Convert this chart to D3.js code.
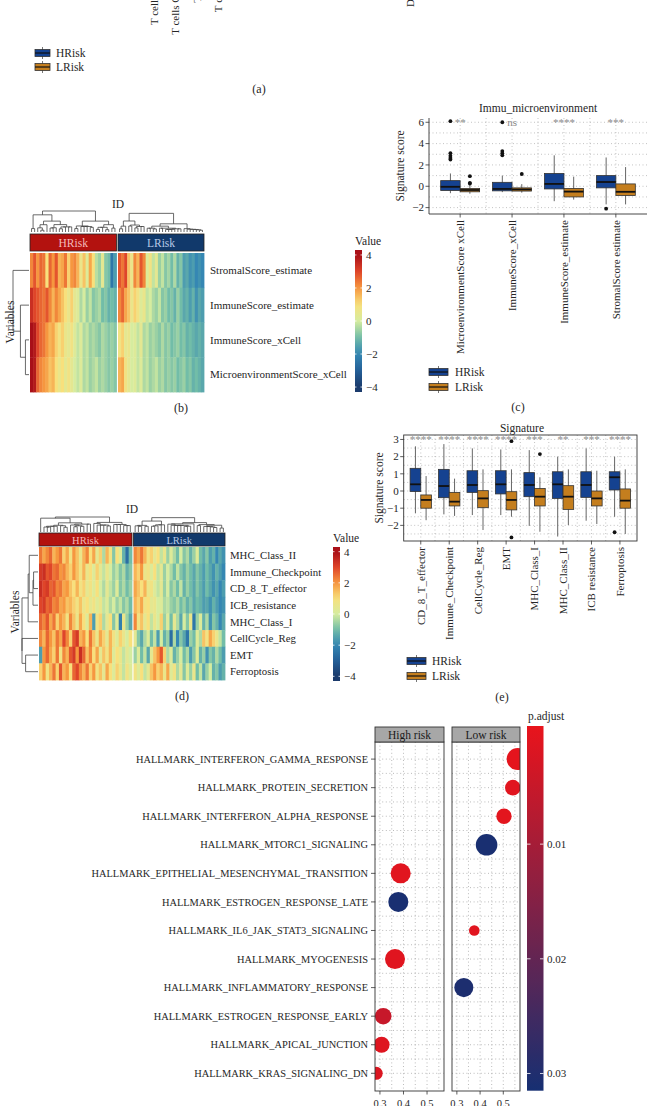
<!DOCTYPE html>
<html><head><meta charset="utf-8">
<script src="https://cdn.jsdelivr.net/npm/d3@7"></script>
<style>
body{margin:0;background:#fff}
svg{display:block}
text{font-family:"Liberation Serif","Times New Roman",serif;fill:#262626}
</style>
</head><body>
<svg id="fig" width="648" height="1106"></svg>
<script>
// ---------------- DATA ----------------
const groups = ["HRisk", "LRisk"];
const cibersortCells = ["B cells naive","B cells memory","Plasma cells","T cells CD8","T cells CD4 naive","T cells CD4 memory resting","T cells CD4 memory activated","T cells follicular helper","T cells regulatory (Tregs)","T cells gamma delta","NK cells resting","NK cells activated","Monocytes","Macrophages M0","Macrophages M1","Macrophages M2","Dendritic cells resting","Dendritic cells activated","Mast cells resting","Mast cells activated","Eosinophils","Neutrophils"];

// panel b heatmap
const immuRows = ["StromalScore_estimate","ImmuneScore_estimate","ImmuneScore_xCell","MicroenvironmentScore_xCell"];
const immuHeatH = [
 [2.2,2.8,2.0,2.6,2.4,1.0,2.6,2.0,2.8,1.6,1.8,2.4,1.2,2.0,2.2,1.6,0.6,1.4,0.2,1.8,1.0,-0.3,-0.6,0.4,-0.8,-1.0,-2.4,-1.6],
 [3.4,3.0,2.8,2.6,2.4,2.8,2.2,1.6,2.2,1.8,1.4,1.0,0.6,1.2,0.4,0.2,-0.4,0.0,-0.6,-0.2,-0.8,-0.6,-0.4,-1.0,-0.8,-1.2,-1.0,-1.2],
 [4.0,3.8,3.0,2.6,2.4,2.0,1.6,1.8,1.2,0.8,1.2,0.6,0.4,0.8,0.2,-0.2,0.2,-0.4,-0.2,-0.6,-0.4,-0.6,-0.8,-0.4,-0.6,-0.8,-0.6,-0.8],
 [4.0,3.8,2.6,2.2,2.0,1.8,1.4,1.6,1.0,0.6,1.0,0.4,0.8,0.4,0.0,-0.2,0.2,-0.4,-0.2,-0.6,-0.4,-0.2,-0.6,-0.4,-0.6,-0.8,-0.6,-0.8]
];
const immuHeatL = [
 [2.8,2.4,3.0,1.4,0.6,2.2,1.6,2.8,2.2,0.2,0.8,-0.2,0.4,-0.6,-0.2,-0.8,-0.5,-1.0,-0.4,-1.2,-0.8,-1.6,-1.4,-1.8,-1.6,-2.0,-1.8,-2.0],
 [2.2,2.6,1.8,1.4,0.6,1.2,0.8,0.2,0.6,-0.2,0.0,-0.4,-0.6,-0.2,-0.8,-0.6,-1.0,-0.8,-1.2,-0.6,-1.0,-1.4,-1.2,-1.6,-1.2,-1.8,-1.4,-1.6],
 [0.8,1.2,0.4,0.6,0.0,0.2,-0.2,0.4,-0.4,-0.2,-0.6,-0.4,-0.6,-0.8,-0.4,-0.8,-0.6,-1.0,-0.8,-0.6,-1.0,-0.8,-1.2,-1.0,-1.2,-1.4,-1.2,-1.4],
 [1.6,1.8,0.8,0.4,0.0,0.2,-0.2,0.2,-0.4,-0.2,-0.6,-0.4,-0.2,-0.6,-0.4,-0.8,-0.6,-0.8,-0.6,-1.0,-0.8,-0.6,-1.0,-0.8,-1.2,-1.0,-1.2,-1.4]
];

// panel c boxplot  [lowWhisker, q1, median, q3, highWhisker]
const immuCats = ["MicroenvironmentScore xCell","ImmuneScore_xCell","ImmuneScore_estimate","StromalScore estimate"];
const immuBoxH = [[-0.65,-0.4,-0.05,0.53,1.2],[-0.55,-0.43,-0.25,0.37,1.0],[-1.4,-0.25,0.22,1.2,2.9],[-1.7,-0.15,0.4,1.0,2.7]];
const immuBoxL = [[-0.7,-0.52,-0.35,-0.2,0.15],[-0.6,-0.45,-0.3,-0.15,0.2],[-1.25,-1.0,-0.5,-0.2,0.9],[-1.7,-0.87,-0.52,0.22,1.8]];
const immuOutH = [[6.1,3.1,2.85,2.65,2.5],[6.0,3.3,3.1,2.9],[],[-2.1]];
const immuOutL = [[0.95,0.32,0.25],[1.15],[],[]];
const immuSig = ["**","ns","****","***"];
const immuTicks = [-2,0,2,4,6];

// panel d heatmap
const sigRows = ["MHC_Class_II","Immune_Checkpoint","CD_8_T_effector","ICB_resistance","MHC_Class_I","CellCycle_Reg","EMT","Ferroptosis"];
const sigHeatH = [
 [2.4,1.8,2.2,2.6,1.6,2.0,2.4,1.2,1.8,0.8,2.0,1.4,0.6,1.6,2.2,1.0,1.8,0.4,1.2,-0.4,1.6,0.8,-0.8,1.0,0.2,-1.2,-2.6,-1.0],
 [3.2,3.4,2.8,3.0,2.4,2.6,2.0,2.2,1.6,1.2,2.0,1.4,0.8,1.6,0.6,1.0,0.2,1.2,0.4,-0.2,0.6,0.0,-0.6,-0.2,-0.8,-0.4,-1.2,-0.8],
 [3.4,3.0,3.2,2.6,2.8,2.2,2.4,1.8,2.0,1.4,1.0,1.6,0.8,1.2,0.4,0.8,0.2,1.0,0.0,-0.4,0.4,-0.2,-0.6,0.2,-0.8,-0.4,-1.0,-0.6],
 [3.0,3.2,2.6,2.8,2.2,2.4,1.8,2.0,1.4,1.6,1.2,0.8,1.4,0.6,1.0,0.4,0.8,0.2,0.6,-0.2,0.2,-0.4,0.0,-0.6,-0.2,-0.8,-0.4,-1.0],
 [2.6,2.2,2.8,1.8,2.4,1.2,2.0,1.6,0.8,2.2,1.4,0.6,1.8,1.0,0.2,1.6,-1.6,0.8,1.2,-0.4,0.4,1.0,-0.8,0.2,-2.2,0.6,-0.6,-1.4],
 [2.2,1.6,2.6,2.0,1.4,2.4,1.8,3.0,2.2,1.2,2.8,3.2,1.6,2.0,1.0,2.4,1.4,0.6,1.8,1.2,0.4,1.6,0.8,0.2,1.2,0.6,0.0,1.0],
 [-1.6,2.0,2.6,1.8,1.2,2.4,0.8,2.2,1.6,2.8,3.2,2.0,3.4,2.6,1.4,2.2,1.0,1.8,0.4,1.4,0.8,1.6,0.2,1.0,0.6,-0.2,0.4,0.0],
 [1.2,2.0,0.8,1.6,2.4,1.2,2.8,1.6,2.0,1.0,2.6,3.0,2.2,1.6,2.4,1.2,2.0,0.8,1.4,0.4,1.8,1.0,0.2,1.2,0.6,-0.2,0.8,0.2]
];
const sigHeatL = [
 [2.2,1.8,2.4,1.6,0.8,1.2,0.4,1.0,-0.2,0.6,-0.6,0.2,-0.4,-1.0,0.0,-0.8,-0.4,-1.2,-0.6,0.2,-1.0,-1.4,-0.8,-1.6,-1.2,-2.0,-1.4,-1.8],
 [1.6,1.2,2.0,0.6,0.8,0.2,1.0,-0.2,0.4,-0.6,0.0,-0.4,-1.0,-0.2,-0.8,-1.2,-0.6,-1.0,-1.4,-0.8,-1.2,-1.6,-1.0,-1.4,-1.8,-1.2,-1.6,-2.0],
 [1.8,1.4,1.0,1.6,0.6,0.8,0.2,-0.2,0.4,-0.6,0.0,-0.8,-0.4,-1.0,-0.2,-1.2,-0.6,-1.0,-1.4,-0.8,-1.2,-1.6,-1.0,-1.4,-1.8,-1.4,-2.0,-1.6],
 [1.6,1.2,1.8,0.8,1.0,0.4,0.6,0.0,0.2,-0.4,-0.2,-0.6,-0.8,-0.4,-1.0,-0.6,-1.2,-0.8,-1.4,-1.0,-1.2,-1.6,-1.4,-1.8,-1.2,-1.6,-2.0,-1.8],
 [2.2,0.8,1.4,0.4,1.0,-0.2,0.6,0.0,1.2,-0.6,0.2,-1.0,0.4,-0.4,-1.4,0.0,-0.8,0.6,-2.4,-0.6,0.2,-1.2,-0.4,-1.8,-0.8,-1.2,-2.0,-1.4],
 [0.4,-0.8,-1.4,-0.4,0.2,-1.0,-0.2,-1.6,0.0,-1.2,-0.6,-2.6,-0.4,-2.0,-0.8,-1.4,-2.4,-0.6,-1.0,0.2,-0.4,1.4,0.8,1.8,1.2,0.6,-0.2,-1.0],
 [-0.6,0.2,-1.0,-0.2,-1.4,0.4,1.4,2.0,2.8,1.2,-0.4,0.2,-1.2,-0.6,0.0,-1.0,-0.4,-1.6,-0.8,0.2,-1.2,-0.6,-1.8,-0.8,-1.2,-0.4,-1.0,-1.6],
 [0.8,0.2,1.0,-0.2,0.4,1.4,2.0,1.2,1.6,0.6,1.8,0.2,0.8,-0.4,0.4,-0.8,0.2,-0.6,0.6,-1.0,-0.2,-1.4,-0.6,0.0,-1.2,-0.8,-1.6,-1.2]
];

// panel e boxplot
const sigCats = ["CD_8_T_effector","Immune_Checkpoint","CellCycle_Reg","EMT","MHC_Class_I","MHC_Class_II","ICB resistance","Ferroptosis"];
const sigBoxH = [[-1.3,-0.03,0.39,1.32,2.6],[-1.36,-0.39,0.29,1.26,2.73],[-1.4,-0.08,0.35,1.18,2.48],[-1.4,-0.17,0.39,1.18,2.42],[-2.03,-0.33,0.35,1.07,2.38],[-2.65,-0.43,0.39,1.12,2.0],[-1.73,-0.37,0.35,1.12,2.48],[-1.5,0.06,0.8,1.12,2.0]];
const sigBoxL = [[-1.7,-1.0,-0.52,-0.23,0.87],[-1.45,-0.87,-0.62,-0.08,0.72],[-2.27,-0.97,-0.43,0.02,1.26],[-1.5,-1.1,-0.52,-0.04,1.26],[-2.37,-0.87,-0.33,0.15,0.8],[-1.98,-1.07,-0.33,0.31,1.26],[-1.92,-0.87,-0.43,0.0,1.18],[-2.5,-1.0,-0.56,0.12,1.26]];
const sigOutH = [[],[],[],[],[],[],[],[-2.4]];
const sigOutL = [[],[],[],[2.9,-2.7],[2.15],[],[],[]];
const sigSig = ["****","****","****","****","***","**","***","****"];
const sigTicks = [-2,-1,0,1,2,3];

// panel f dotplot
const hallmarkRows = ["HALLMARK_INTERFERON_GAMMA_RESPONSE","HALLMARK_PROTEIN_SECRETION","HALLMARK_INTERFERON_ALPHA_RESPONSE","HALLMARK_MTORC1_SIGNALING","HALLMARK_EPITHELIAL_MESENCHYMAL_TRANSITION","HALLMARK_ESTROGEN_RESPONSE_LATE","HALLMARK_IL6_JAK_STAT3_SIGNALING","HALLMARK_MYOGENESIS","HALLMARK_INFLAMMATORY_RESPONSE","HALLMARK_ESTROGEN_RESPONSE_EARLY","HALLMARK_APICAL_JUNCTION","HALLMARK_KRAS_SIGNALING_DN"];
const facets = ["High risk","Low risk"];
const highTerms = ["HALLMARK_EPITHELIAL_MESENCHYMAL_TRANSITION","HALLMARK_ESTROGEN_RESPONSE_LATE","HALLMARK_MYOGENESIS","HALLMARK_ESTROGEN_RESPONSE_EARLY","HALLMARK_APICAL_JUNCTION","HALLMARK_KRAS_SIGNALING_DN"];
const highGeneRatio = [0.388,0.378,0.364,0.314,0.307,0.284];
const highPAdjust = [0.0010,0.0310,0.0012,0.0050,0.0015,0.0020];
const highCount = [104,104,104,71,66,44];
const lowTerms = ["HALLMARK_INTERFERON_GAMMA_RESPONSE","HALLMARK_PROTEIN_SECRETION","HALLMARK_INTERFERON_ALPHA_RESPONSE","HALLMARK_MTORC1_SIGNALING","HALLMARK_IL6_JAK_STAT3_SIGNALING","HALLMARK_INFLAMMATORY_RESPONSE"];
const lowGeneRatio = [0.562,0.541,0.503,0.428,0.375,0.330];
const lowPAdjust = [0.0005,0.0010,0.0008,0.0310,0.0010,0.0305];
const lowCount = [125,63,61,121,29,94];
const geneRatioTicks = [0.3,0.4,0.5];
const pAdjustTicks = [0.01,0.02,0.03];
const heatTicks = [4,2,0,-2,-4];

// ---------------- STYLE ----------------
const colH = "#154290", colL = "#C47E1E";
const annH = "#B3120F", annL = "#11396B";
const heatColor = d3.scaleLinear()
  .domain([-4,-3,-2,-1,0,1,2,3,4])
  .range(["#1B3A6B","#245F97","#3587B3","#72BDA8","#D6EC9F","#F8E07C","#F6973F","#DF4529","#A80F18"])
  .clamp(true);
const pColor = d3.scaleLinear().domain([0,0.0315]).range(["#E8141C","#162F72"]).interpolate(d3.interpolateRgb).clamp(true);

const svg = d3.select("#fig");
svg.append("rect").attr("width",648).attr("height",1106).attr("fill","#fff");
const defs = svg.append("defs");
const fmt = v => (v<0?"\u2212":"") + Math.abs(v);

function panelLabel(t,x,y){ svg.append("text").attr("x",x).attr("y",y).attr("text-anchor","middle").attr("font-size",12).text(t); }

function legendKey(g,x,y,w,color,label,tx){
  const h=7;
  g.append("line").attr("x1",x+w/2).attr("x2",x+w/2).attr("y1",y-6).attr("y2",y+6).attr("stroke","#555").attr("stroke-width",0.8);
  g.append("rect").attr("x",x).attr("y",y-h/2).attr("width",w).attr("height",h).attr("fill",color).attr("stroke","#333").attr("stroke-width",0.8);
  g.append("line").attr("x1",x).attr("x2",x+w).attr("y1",y).attr("y2",y).attr("stroke","#111").attr("stroke-width",1.2);
  g.append("text").attr("x",tx).attr("y",y+4).attr("font-size",11.5).text(label);
}

// ---------------- PANEL A (remnant) ----------------
const xA = d3.scalePoint().domain(cibersortCells).range([47.5,495]);
svg.append("g").selectAll("text").data(cibersortCells).join("text")
  .attr("transform",d=>`translate(${xA(d)},-100) rotate(-90)`)
  .attr("text-anchor","end").attr("dy","0.35em").attr("font-size",11).text(d=>d);
const legA = svg.append("g");
legendKey(legA,35,53,15,colH,"HRisk",56);
legendKey(legA,35,67,15,colL,"LRisk",56);
panelLabel("(a)",259,93);

// ---------------- CLUSTERING ----------------
function cluster(vectors){
  const dist=(a,b)=>Math.sqrt(d3.sum(a,(v,k)=>(v-b[k])**2));
  let cl = vectors.map((v,i)=>({leaves:[i],h:0}));
  while(cl.length>1){
    let bi=0,bd=Infinity;
    for(let i=0;i<cl.length-1;i++){
      const a=cl[i],b=cl[i+1]; let s=0;
      for(const p of a.leaves) for(const q of b.leaves) s+=dist(vectors[p],vectors[q]);
      const d=s/(a.leaves.length*b.leaves.length);
      if(d<bd){bd=d;bi=i;}
    }
    const a=cl[bi],b=cl[bi+1];
    cl.splice(bi,2,{leaves:a.leaves.concat(b.leaves),h:Math.max(bd,a.h,b.h),children:[a,b]});
  }
  return cl[0];
}
function drawDendro(g,root,posFn,hScale,orient){
  (function lay(n){ if(!n.children){n.p=posFn(n.leaves[0]);return;} n.children.forEach(lay); n.p=(n.children[0].p+n.children[1].p)/2; })(root);
  const path=d3.path();
  const pt=(p,h)=>orient==="top"?[p,hScale(h)]:[hScale(h),p];
  (function walk(n){
    if(!n.children) return;
    const [a,b]=n.children;
    for(const c of [a,b]){ const s=pt(c.p,c.h), e=pt(c.p,n.h); path.moveTo(...s); path.lineTo(...e); }
    const s=pt(a.p,n.h), e=pt(b.p,n.h); path.moveTo(...s); path.lineTo(...e);
    walk(a); walk(b);
  })(root);
  g.append("path").attr("d",path.toString()).attr("fill","none").attr("stroke","#444").attr("stroke-width",0.8);
}

// ---------------- HEATMAP ----------------
function heatmap(c){
  const g=svg.append("g");
  const nH=c.dataH[0].length, nL=c.dataL[0].length;
  const xH=d3.scaleBand().domain(d3.range(nH)).range(c.xH);
  const xL=d3.scaleBand().domain(d3.range(nL)).range(c.xL);
  const y=d3.scaleBand().domain(c.rows).range(c.yR);
  c.rows.forEach((r,ri)=>{
    g.append("g").selectAll("rect").data(c.dataH[ri]).join("rect")
      .attr("x",(d,i)=>xH(i)).attr("y",y(r)).attr("width",xH.bandwidth()+0.4).attr("height",y.bandwidth()+0.4).attr("fill",d=>heatColor(d));
    g.append("g").selectAll("rect").data(c.dataL[ri]).join("rect")
      .attr("x",(d,i)=>xL(i)).attr("y",y(r)).attr("width",xL.bandwidth()+0.4).attr("height",y.bandwidth()+0.4).attr("fill",d=>heatColor(d));
  });
  // annotation
  [[c.xH,annH,"HRisk","#F3BABA"],[c.xL,annL,"LRisk","#B7C9E6"]].forEach(([xr,col,lab,tc])=>{
    g.append("rect").attr("x",xr[0]).attr("y",c.ann[0]).attr("width",xr[1]-xr[0]).attr("height",c.ann[1]-c.ann[0]).attr("fill",col).attr("stroke","#222").attr("stroke-width",0.8);
    g.append("text").attr("x",(xr[0]+xr[1])/2).attr("y",(c.ann[0]+c.ann[1])/2+4).attr("text-anchor","middle").attr("font-size",c.annFont).style("fill",tc).text(lab);
  });
  g.append("text").attr("x",c.idPos[0]).attr("y",c.idPos[1]).attr("text-anchor","middle").attr("font-size",11.5).text("ID");
  // column dendrograms
  const colVec=(data,i)=>data.map(r=>r[i]);
  const tH=cluster(d3.range(nH).map(i=>colVec(c.dataH,i)));
  const tL=cluster(d3.range(nL).map(i=>colVec(c.dataL,i)));
  const hs=d3.scaleLinear().domain([0,Math.max(tH.h,tL.h)]).range([c.dend[1],c.dend[0]]);
  drawDendro(g,tH,i=>xH(i)+xH.bandwidth()/2,hs,"top");
  drawDendro(g,tL,i=>xL(i)+xL.bandwidth()/2,hs,"top");
  // row dendrogram
  const rowVec=c.rows.map((r,ri)=>c.dataH[ri].concat(c.dataL[ri]));
  const tR=cluster(rowVec);
  const hr=d3.scaleLinear().domain([0,tR.h]).range([c.xH[0]-1,c.rdRoot]);
  drawDendro(g,tR,i=>y(c.rows[i])+y.bandwidth()/2,hr,"left");
  // row labels
  g.append("g").selectAll("text").data(c.rows).join("text")
    .attr("x",c.labelX).attr("y",d=>y(d)+y.bandwidth()/2).attr("dy","0.35em").attr("font-size",c.rowFont).text(d=>d);
  g.append("text").attr("transform",`translate(${c.varPos[0]},${c.varPos[1]}) rotate(-90)`).attr("text-anchor","middle").attr("dy","0.35em").attr("font-size",11.5).text("Variables");
  // legend
  const ly=d3.scaleLinear().domain([4.3,-4.3]).range(c.legY);
  const gid="grad"+c.id;
  const grad=defs.append("linearGradient").attr("id",gid).attr("x1",0).attr("x2",0).attr("y1",0).attr("y2",1);
  d3.range(0,1.0001,0.05).forEach(t=>grad.append("stop").attr("offset",t).attr("stop-color",heatColor(4.3-8.6*t)));
  g.append("rect").attr("x",c.legX).attr("y",c.legY[0]).attr("width",7).attr("height",c.legY[1]-c.legY[0]).attr("fill",`url(#${gid})`);
  heatTicks.forEach(v=>{
    g.append("line").attr("x1",c.legX).attr("x2",c.legX+1.5).attr("y1",ly(v)).attr("y2",ly(v)).attr("stroke","#fff").attr("stroke-width",0.8);
    g.append("line").attr("x1",c.legX+5.5).attr("x2",c.legX+7).attr("y1",ly(v)).attr("y2",ly(v)).attr("stroke","#fff").attr("stroke-width",0.8);
  });
  g.append("g").selectAll("text").data(heatTicks).join("text").attr("x",c.legX+11).attr("y",d=>ly(d)).attr("dy","0.35em").attr("font-size",11).text(fmt);
  g.append("text").attr("x",c.legX).attr("y",c.legY[0]-5).attr("font-size",11.5).text("Value");
}

heatmap({id:"b",rows:immuRows,dataH:immuHeatH,dataL:immuHeatL,xH:[30,116.5],xL:[118,204],yR:[253,392],ann:[234,251],annFont:11.5,
  idPos:[118,208],dend:[211,232],rdRoot:13,labelX:210,rowFont:11,varPos:[10,322],legX:355,legY:[250,392]});
panelLabel("(b)",181,412);

heatmap({id:"d",rows:sigRows,dataH:sigHeatH,dataL:sigHeatL,xH:[39,132],xL:[133.5,225],yR:[547,680],ann:[533,546],annFont:10.5,
  idPos:[132,513],dend:[517,532],rdRoot:22,labelX:230,rowFont:10.8,varPos:[15,612],legX:333,legY:[547,681]});
panelLabel("(d)",182,700);

// ---------------- BOXPLOTS ----------------
function boxplot(c){
  const g=svg.append("g");
  const x=d3.scalePoint().domain(c.cats).range(c.xR).padding(0.6);
  const step=x.step(), bw=step*0.375;
  const y=d3.scaleLinear().domain(c.yD).range(c.yR);
  const [L,R]=c.xR, [B,T]=c.yR;
  const dot="1 2.5";
  // grid
  const minor=d3.range(Math.ceil(c.yD[0]/c.minorStep)*c.minorStep,c.yD[1],c.minorStep);
  g.append("g").selectAll("line").data(minor).join("line").attr("x1",L).attr("x2",R).attr("y1",d=>y(d)).attr("y2",d=>y(d))
    .attr("stroke","#9a9a9a").attr("stroke-width",0.6).attr("stroke-dasharray",dot);
  const vx=[]; c.cats.forEach((d,i)=>{vx.push(x(d)); if(i<c.cats.length-1) vx.push(x(d)+step/2);});
  g.append("g").selectAll("line").data(vx).join("line").attr("x1",d=>d).attr("x2",d=>d).attr("y1",T).attr("y2",B)
    .attr("stroke","#9a9a9a").attr("stroke-width",0.6).attr("stroke-dasharray",dot);
  // boxes
  [[c.boxH,c.outH,colH,-1],[c.boxL,c.outL,colL,1]].forEach(([box,out,col,s])=>{
    c.cats.forEach((cat,i)=>{
      const cx=x(cat)+s*bw/2, b=box[i];
      g.append("line").attr("x1",cx).attr("x2",cx).attr("y1",y(b[0])).attr("y2",y(b[4])).attr("stroke","#555").attr("stroke-width",0.9);
      g.append("rect").attr("x",cx-bw/2).attr("y",y(b[3])).attr("width",bw).attr("height",y(b[1])-y(b[3])).attr("fill",col).attr("stroke","#333").attr("stroke-width",0.8);
      g.append("line").attr("x1",cx-bw/2).attr("x2",cx+bw/2).attr("y1",y(b[2])).attr("y2",y(b[2])).attr("stroke","#111").attr("stroke-width",1.8);
      g.append("g").selectAll("circle").data(out[i]).join("circle").attr("cx",cx).attr("cy",d=>y(d)).attr("r",1.9).attr("fill","#111");
    });
  });
  // significance
  g.append("g").selectAll("text").data(c.sig).join("text").attr("x",(d,i)=>x(c.cats[i])).attr("y",y(c.sigY)+4)
    .attr("text-anchor","middle").attr("font-size",11).style("fill","#8a8a8a").text(d=>d);
  // axes
  if(c.border){ g.append("rect").attr("x",L).attr("y",T).attr("width",R-L).attr("height",B-T).attr("fill","none").attr("stroke","#333").attr("stroke-width",0.9); }
  else {
    g.append("line").attr("x1",L).attr("x2",L).attr("y1",T).attr("y2",B).attr("stroke","#333").attr("stroke-width",0.9);
    g.append("line").attr("x1",L).attr("x2",R).attr("y1",B).attr("y2",B).attr("stroke","#333").attr("stroke-width",0.9);
  }
  c.ticks.forEach(v=>{
    g.append("line").attr("x1",L-3.5).attr("x2",L).attr("y1",y(v)).attr("y2",y(v)).attr("stroke","#333").attr("stroke-width",0.8);
    g.append("text").attr("x",L-5).attr("y",y(v)).attr("dy","0.35em").attr("text-anchor","end").attr("font-size",11).text(fmt(v));
  });
  c.cats.forEach(cat=>{
    g.append("line").attr("x1",x(cat)).attr("x2",x(cat)).attr("y1",B).attr("y2",B+3.5).attr("stroke","#333").attr("stroke-width",0.8);
    g.append("text").attr("transform",`translate(${x(cat)},${B+6}) rotate(-90)`).attr("text-anchor","end").attr("dy","0.35em").attr("font-size",11).text(cat);
  });
  g.append("text").attr("x",c.titlePos[0]).attr("y",c.titlePos[1]).attr("text-anchor","middle").attr("font-size",11.5).text(c.title);
  g.append("text").attr("transform",`translate(${c.ylabX},${(T+B)/2}) rotate(-90)`).attr("text-anchor","middle").attr("dy","0.35em").attr("font-size",11.5).text("Signature score");
  legendKey(g,c.leg[0],c.leg[1],19,colH,groups[0],c.leg[2]);
  legendKey(g,c.leg[0],c.leg[1]+15,19,colL,groups[1],c.leg[2]);
}

boxplot({cats:immuCats,boxH:immuBoxH,boxL:immuBoxL,outH:immuOutH,outL:immuOutL,sig:immuSig,sigY:6,ticks:immuTicks,minorStep:1,
  xR:[429,647],yD:[-2.6,6.4],yR:[214,118],border:false,title:"Immu_microenvironment",titlePos:[538,112],ylabX:400,leg:[429,372,455]});
panelLabel("(c)",518,411);

boxplot({cats:sigCats,boxH:sigBoxH,boxL:sigBoxL,outH:sigOutH,outL:sigOutL,sig:sigSig,sigY:3,ticks:sigTicks,minorStep:0.5,
  xR:[403.7,637],yD:[-2.91,3.26],yR:[541,435],border:true,title:"Signature",titlePos:[522,432],ylabX:379,leg:[407,661,432]});
panelLabel("(e)",502,701);

// ---------------- PANEL F ----------------
(function(){
  const g=svg.append("g");
  const yF=d3.scalePoint().domain(hallmarkRows).range([759.1,1073.3]);
  const rowStep=yF.step();
  const panelY=[742,1091];
  const panelsX={"High risk":[375,444],"Low risk":[452,520]};
  const size=d3.scaleSqrt().domain([0,130]).range([0,11.2]);
  const facetData={
    "High risk":highTerms.map((t,i)=>({t,gr:highGeneRatio[i],p:highPAdjust[i],n:highCount[i]})),
    "Low risk":lowTerms.map((t,i)=>({t,gr:lowGeneRatio[i],p:lowPAdjust[i],n:lowCount[i]}))
  };
  const dot="1 2.6";
  facets.forEach((f,fi)=>{
    const [x0,x1]=panelsX[f];
    const x=d3.scaleLinear().domain([0.279,0.572]).range([x0,x1]);
    const cid="clipf"+fi;
    defs.append("clipPath").attr("id",cid).append("rect").attr("x",x0).attr("y",panelY[0]).attr("width",x1-x0).attr("height",panelY[1]-panelY[0]);
    const grid=g.append("g");
    const vlines=[0.3,0.35,0.4,0.45,0.5,0.55];
    grid.selectAll(".v").data(vlines).join("line").attr("x1",d=>x(d)).attr("x2",d=>x(d)).attr("y1",panelY[0]).attr("y2",panelY[1])
      .attr("stroke","#8d8d8d").attr("stroke-width",0.6).attr("stroke-dasharray",dot);
    const hl=[]; hallmarkRows.forEach((r,i)=>{hl.push(yF(r)); if(i<hallmarkRows.length-1) hl.push(yF(r)+rowStep/2);});
    grid.selectAll(".h").data(hl).join("line").attr("x1",x0).attr("x2",x1).attr("y1",d=>d).attr("y2",d=>d)
      .attr("stroke","#8d8d8d").attr("stroke-width",0.6).attr("stroke-dasharray",dot);
    g.append("g").attr("clip-path",`url(#${cid})`).selectAll("circle").data(facetData[f]).join("circle")
      .attr("cx",d=>x(d.gr)).attr("cy",d=>yF(d.t)).attr("r",d=>size(d.n)).attr("fill",d=>pColor(d.p));
    g.append("rect").attr("x",x0).attr("y",panelY[0]).attr("width",x1-x0).attr("height",panelY[1]-panelY[0]).attr("fill","none").attr("stroke","#333").attr("stroke-width",0.9);
    g.append("rect").attr("x",x0).attr("y",727).attr("width",x1-x0).attr("height",15).attr("fill","#A7A7A7").attr("stroke","#333").attr("stroke-width",0.9);
    g.append("text").attr("x",(x0+x1)/2).attr("y",738.5).attr("text-anchor","middle").attr("font-size",11.5).style("fill","#1a1a1a").text(f);
    geneRatioTicks.forEach(v=>{
      g.append("line").attr("x1",x(v)).attr("x2",x(v)).attr("y1",panelY[1]).attr("y2",panelY[1]+3.5).attr("stroke","#333").attr("stroke-width",0.8);
      g.append("text").attr("x",x(v)).attr("y",1107).attr("text-anchor","middle").attr("font-size",10.5).text(v.toFixed(1));
    });
  });
  hallmarkRows.forEach(r=>{
    g.append("line").attr("x1",371).attr("x2",375).attr("y1",yF(r)).attr("y2",yF(r)).attr("stroke","#333").attr("stroke-width",0.8);
  });
  g.append("g").selectAll("text").data(hallmarkRows).join("text").attr("x",368).attr("y",d=>yF(d)).attr("dy","0.35em")
    .attr("text-anchor","end").attr("font-size",10.4).text(d=>d);
  // colorbar
  const py=d3.scaleLinear().domain([-0.0003,0.0315]).range([726,1090.7]);
  const grad=defs.append("linearGradient").attr("id","gradP").attr("x1",0).attr("x2",0).attr("y1",0).attr("y2",1);
  d3.range(0,1.0001,0.05).forEach(t=>grad.append("stop").attr("offset",t).attr("stop-color",pColor(py.invert(726+t*(1090.7-726)))));
  g.append("rect").attr("x",527).attr("y",726).attr("width",16.5).attr("height",1090.7-726).attr("fill","url(#gradP)");
  pAdjustTicks.forEach(v=>{
    g.append("line").attr("x1",527).attr("x2",530.5).attr("y1",py(v)).attr("y2",py(v)).attr("stroke","#fff").attr("stroke-width",0.8);
    g.append("line").attr("x1",540).attr("x2",543.5).attr("y1",py(v)).attr("y2",py(v)).attr("stroke","#fff").attr("stroke-width",0.8);
    g.append("text").attr("x",547).attr("y",py(v)).attr("dy","0.35em").attr("font-size",11).text(v.toFixed(2));
  });
  g.append("text").attr("x",528).attr("y",720).attr("font-size",11.5).text("p.adjust");
})();
</script>
</body></html>
